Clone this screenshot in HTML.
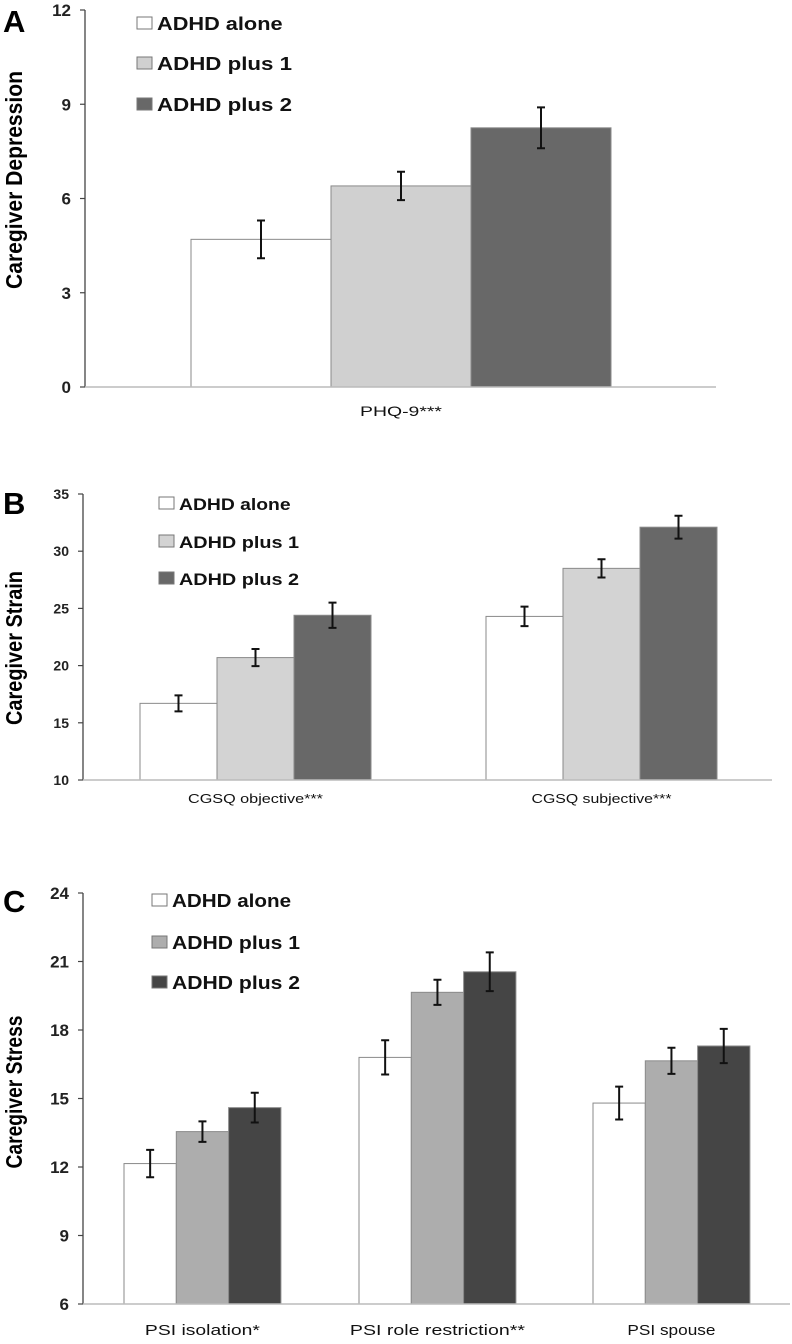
<!DOCTYPE html>
<html><head><meta charset="utf-8"><style>
html,body{margin:0;padding:0;background:#fff;}
svg{display:block;font-family:"Liberation Sans",sans-serif;}
</style></head><body>
<svg id="fig" width="792" height="1344" viewBox="0 0 792 1344" xmlns="http://www.w3.org/2000/svg"></svg>
<script>
const seriesNames = ["ADHD alone","ADHD plus 1","ADHD plus 2"];
const aCategories = ["PHQ-9***"];
const aMeans = [[4.7],[6.4],[8.25]];
const aErrors = [[0.6],[0.45],[0.65]];
const aTicks = ["0","3","6","9","12"];
const bCategories = ["CGSQ objective***","CGSQ subjective***"];
const bMeans = [[16.7,24.3],[20.7,28.5],[24.4,32.1]];
const bErrors = [[0.7,0.85],[0.75,0.8],[1.1,1.0]];
const bTicks = ["10","15","20","25","30","35"];
const cCategories = ["PSI isolation*","PSI role restriction**","PSI spouse"];
const cMeans = [[12.15,16.8,14.8],[13.55,19.65,16.65],[14.6,20.55,17.3]];
const cErrors = [[0.6,0.75,0.72],[0.45,0.55,0.57],[0.65,0.85,0.75]];
const cTicks = ["6","9","12","15","18","21","24"];

const NS="http://www.w3.org/2000/svg";
const svg=document.getElementById('fig');
function mk(tag,attrs,parent){const e=document.createElementNS(NS,tag);for(const k in attrs)e.setAttribute(k,attrs[k]);(parent||svg).appendChild(e);return e;}

function panel(cfg){
  const g=mk('g',{});
  
  
  const ticks=cfg.ticks.map(Number);
  const ymin=ticks[0], ymax=ticks[ticks.length-1];
  const y=v=>cfg.y0-(v-ymin)/(ymax-ymin)*(cfg.y0-cfg.yTop);
  const L=mk('text',{x:3,y:cfg.letterY,'font-size':31,'font-weight':'bold',fill:'#000'},g);
  L.textContent=cfg.letter;
  
  
  const T=mk('text',{x:0,y:0,'font-size':cfg.titleSize,'font-weight':'bold','text-anchor':'middle',transform:`translate(${cfg.titleX},${cfg.titleY}) rotate(-90)`,textLength:cfg.titleLen,lengthAdjust:'spacingAndGlyphs'},g);
  T.textContent=cfg.title;
  
  
  const ax=mk('line',{x1:cfg.ax,y1:cfg.yTop,x2:cfg.ax,y2:cfg.y0,stroke:'#444','stroke-width':1.3},g);
  
  
  cfg.ticks.forEach((t,i)=>{
    const ty=y(ticks[i]);
    const tl=mk('line',{x1:cfg.ax-5,y1:ty,x2:cfg.ax,y2:ty,stroke:'#444','stroke-width':1.2},g);
    
    
    const tt=mk('text',{x:cfg.ax-14,y:ty+cfg.tickSize*0.36,'font-size':cfg.tickSize,'font-weight':'bold','text-anchor':'end',fill:'#222'},g);
    tt.textContent=t;
    
    
  });
  cfg.cats.forEach((c,ci)=>{
    for(let s=0;s<3;s++){
      const x=cfg.groupX[ci]+s*cfg.barW;
      const v=cfg.means[s][ci], e=cfg.errs[s][ci];
      const r=mk('rect',{x:x,y:y(v),width:cfg.barW,height:cfg.y0-y(v),fill:cfg.colors[s],stroke:'#8a8a8a','stroke-width':1},g);
      
      
      const cx=x+cfg.barW/2;
      const eb=mk('path',{d:`M${cx},${y(v+e)}V${y(v-e)}M${cx-4},${y(v+e)}H${cx+4}M${cx-4},${y(v-e)}H${cx+4}`,stroke:'#111','stroke-width':2,fill:'none'},g);
      
      
    }
    const cl=mk('text',{x:cfg.groupX[ci]+1.5*cfg.barW,y:cfg.catY,'font-size':cfg.catSize,'text-anchor':'middle',fill:'#111',textLength:cfg.catLen[ci],lengthAdjust:'spacingAndGlyphs'},g);
    cl.textContent=c;
    
    
  });
  const xa=mk('line',{x1:cfg.ax,y1:cfg.y0,x2:cfg.axEnd,y2:cfg.y0,stroke:'#bbb','stroke-width':1.5},g);
  
  
  seriesNames.forEach((n,i)=>{
    const ly=cfg.legY[i];
    const b=mk('rect',{x:cfg.legX,y:ly-6,width:15,height:12,fill:cfg.colors[i],stroke:'#777','stroke-width':1},g);
    
    
    const lt=mk('text',{x:cfg.legX+20,y:ly+7,'font-size':cfg.legSize,'font-weight':600,fill:'#111',textLength:n==='ADHD alone'?cfg.legLen*0.93:cfg.legLen,lengthAdjust:'spacingAndGlyphs'},g);
    lt.textContent=n;
    
    
  });
}

panel({name:'panel-a',letter:'A',letterY:32,title:'Caregiver Depression',titleX:22,titleY:180,titleLen:218,titleSize:23,
  ax:85,axEnd:716,yTop:10,y0:387,ticks:aTicks,tickSize:17,cats:aCategories,means:aMeans,errs:aErrors,
  groupX:[191],barW:140,colors:['#ffffff','#d0d0d0','#686868'],catY:416,catSize:14,catLen:[82],
  legX:137,legY:[23,63,104],legSize:18,legLen:135});
panel({name:'panel-b',letter:'B',letterY:514,title:'Caregiver Strain',titleX:22,titleY:648,titleLen:154,titleSize:23,
  ax:83,axEnd:772,yTop:494,y0:780,ticks:bTicks,tickSize:14,cats:bCategories,means:bMeans,errs:bErrors,
  groupX:[140,486],barW:77,colors:['#ffffff','#d3d3d3','#686868'],catY:803,catSize:13,catLen:[135,140],
  legX:159,legY:[503,541,578],legSize:17,legLen:120});
panel({name:'panel-c',letter:'C',letterY:912,title:'Caregiver  Stress',titleX:22,titleY:1092,titleLen:153,titleSize:23,
  ax:83,axEnd:790,yTop:893,y0:1304,ticks:cTicks,tickSize:17,cats:cCategories,means:cMeans,errs:cErrors,
  groupX:[124,359,593],barW:52.3,colors:['#ffffff','#adadad','#454545'],catY:1335,catSize:15,catLen:[115,175,88],
  legX:152,legY:[900,942,982],legSize:18,legLen:128});
</script>
</body></html>
